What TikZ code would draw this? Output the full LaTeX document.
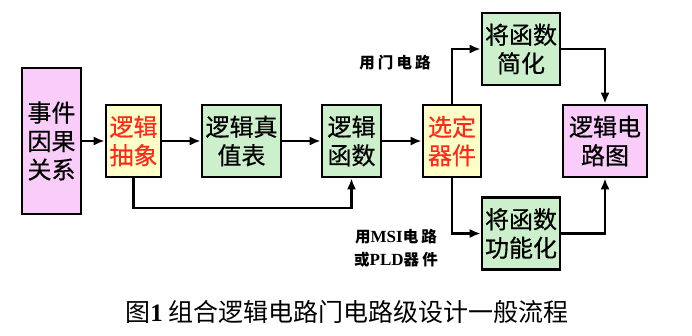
\documentclass[tikz,border=0pt]{standalone}
\usepackage{fontspec}
\newfontfamily\cjk{Noto Sans CJK SC}[FakeBold=0.5]
\newfontfamily\cjkcap{Noto Sans CJK SC}
\newfontfamily\cjknote{Noto Sans CJK SC}[LetterSpace=20]
\newfontfamily\latb{Liberation Serif}
\usetikzlibrary{arrows.meta,positioning}
\definecolor{BoxPink}{HTML}{F9CCF9}
\definecolor{BoxYellow}{HTML}{FFFFC8}
\definecolor{BoxGreen}{HTML}{CCF0CC}
\definecolor{TextRed}{HTML}{FF2A1A}
\newcommand{\latword}[1]{{\latb\bfseries\fontsize{17}{23}\selectfont #1}}

\begin{document}
\begin{tikzpicture}[x=1pt,y=-1pt,
  flowbox/.style={draw=black,line width=2.6pt,inner sep=0pt,align=center,font=\cjk\fontsize{24}{28.5}\selectfont},
  pinkbox/.style={flowbox,fill=BoxPink},
  yellowbox/.style={flowbox,fill=BoxYellow,text=TextRed},
  greenbox/.style={flowbox,fill=BoxGreen},
  flowarrow/.style={line width=2.4pt,-{Latex[length=11pt,width=9pt]}},
  notelabel/.style={align=center,font=\cjknote\bfseries\fontsize{15.5}{23}\selectfont}
]
\useasboundingbox (0,0) rectangle (692,335);
\fill[white] (0,0) rectangle (692,335);

\node[pinkbox,minimum width=59pt,minimum height=146pt] (cause) at (51.5,141) {事件\\因果\\关系};
\node[yellowbox,minimum width=55pt,minimum height=72pt] (abstr) at (133.5,141) {逻辑\\抽象};
\node[greenbox,minimum width=79pt,minimum height=72pt] (truth) at (241.5,141) {逻辑真\\值表};
\node[greenbox,minimum width=59pt,minimum height=72pt] (func) at (351.5,141) {逻辑\\函数};
\node[yellowbox,minimum width=58pt,minimum height=72pt] (select) at (452,141) {选定\\器件};
\node[greenbox,minimum width=78pt,minimum height=72pt] (simp) at (521,49) {将函数\\简化};
\node[greenbox,minimum width=78pt,minimum height=72pt] (funcz) at (521,233.5) {将函数\\功能化};
\node[pinkbox,minimum width=84pt,minimum height=72pt] (circ) at (605,141) {逻辑电\\路图};

\draw[flowarrow] (cause) -- (abstr);
\draw[flowarrow] (abstr) -- (truth);
\draw[flowarrow] (truth) -- (func);
\draw[flowarrow] (func) -- (select);
\draw[flowarrow] (select.north) |- (simp.west);
\draw[flowarrow] (select.south) |- (funcz.west);
\draw[flowarrow] (simp.east) -| (circ.north);
\draw[flowarrow] (funcz.east) -| (circ.south);
\coordinate (loop) at (133.5,208);
\draw[flowarrow] (abstr.south) -- (loop) -| (func.south);

\node[notelabel] (gatenote) at (395,63) {用门电路};
\node[notelabel] (msinote) at (396,248) {用\latword{MSI}电路\\或\latword{PLD}器件};

\node[font=\cjkcap\fontsize{25}{28}\selectfont] (caption) at (347,312) {图\latword{\fontsize{25}{28}\selectfont 1} 组合逻辑电路门电路级设计一般流程};
\end{tikzpicture}
\end{document}
